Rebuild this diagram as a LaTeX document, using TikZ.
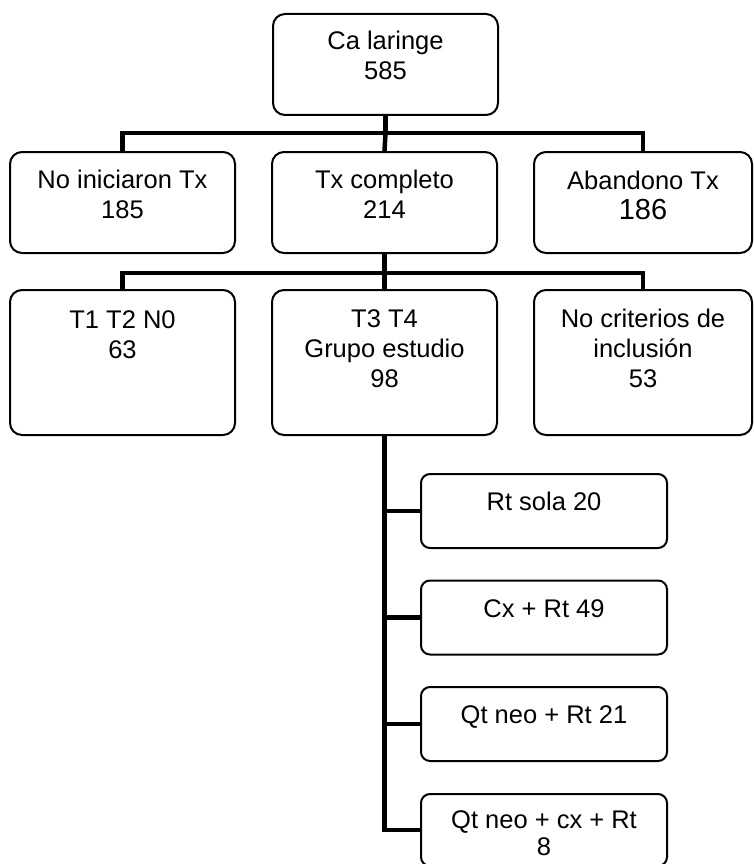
\documentclass[tikz,border=0pt]{standalone}
\usepackage{fontspec}
\setmainfont{Liberation Sans}
\begin{document}
\begin{tikzpicture}[x=1pt,y=-1pt,
  box/.style={draw, line width=2pt, rounded corners=12pt, inner sep=0pt},
  wbox/.style={box, minimum width=225pt},
  rbox/.style={box, rounded corners=9pt, minimum width=246pt, minimum height=74pt},
  txt/.style={font=\fontsize{25.5}{30}\selectfont, align=center, inner sep=0pt, anchor=base},
  link/.style={line width=4.5pt}]
\useasboundingbox (0,0) rectangle (753,864);
\clip (0,0) rectangle (753,864);
% boxes
\node[wbox, minimum height=101pt] (top) at (385.5,64.5) {};
\node[wbox, minimum height=101pt] (r2a) at (122.5,202.5) {};
\node[wbox, minimum height=101pt] (r2b) at (384.5,202.5) {};
\node[box, minimum width=218pt, minimum height=101pt] (r2c) at (643,202.5) {};
\node[wbox, minimum height=145pt] (r3a) at (122.5,362.5) {};
\node[wbox, minimum height=145pt] (r3b) at (384.5,362.5) {};
\node[box, minimum width=218pt, minimum height=145pt] (r3c) at (643,362.5) {};
\node[rbox] (r4a) at (544,511) {};
\node[rbox] (r4b) at (544,617.5) {};
\node[rbox] (r4c) at (544,724) {};
\node[rbox, minimum height=72pt] (r4d) at (544,830) {};
% texts (anchored at the baseline of their last line)
\node[txt] (ttop) at (385.5,80) {Ca laringe\\585};
\node[txt] (t2a) at (122.5,218) {No iniciaron Tx\\185};
\node[txt] (t2b) at (384.5,218) {Tx completo\\214};
\node[txt] (t2c) at (643,219) {Abandono Tx\\{\fontsize{29}{31}\selectfont 186}};
\node[txt] (t3a) at (122.5,358) {T1 T2 N0\\63};
\node[txt] (t3b) at (384.5,387) {T3 T4\\Grupo estudio\\98};
\node[txt] (t3c) at (643,387) {No criterios de\\inclusión\\53};
\node[txt] (t4a) at (544,510) {Rt sola 20};
\node[txt] (t4b) at (544,617) {Cx + Rt 49};
\node[txt] (t4c) at (544,723) {Qt neo + Rt 21};
\node[txt, font=\fontsize{25.5}{27}\selectfont] (t4d) at (544,855) {Qt neo + cx + Rt\\8};
% connectors
\coordinate (j1) at (385.5,133);
\coordinate (j2) at (384.5,273);
\draw[link] (top.south) -- (j1);
\draw[link] (r2a.north) |- (j1) -| (r2c.north);
\draw[link] (j1) -- (r2b.north);
\draw[link] (r2b.south) -- (j2);
\draw[link] (r3a.north) |- (j2) -| (r3c.north);
\draw[link] (j2) -- (r3b.north);
\draw[link] (r3b.south) |- (r4d.west);
\draw[link] (r4a.west) -- (r4a.west -| r3b.south);
\draw[link] (r4b.west) -- (r4b.west -| r3b.south);
\draw[link] (r4c.west) -- (r4c.west -| r3b.south);
\end{tikzpicture}
\end{document}
